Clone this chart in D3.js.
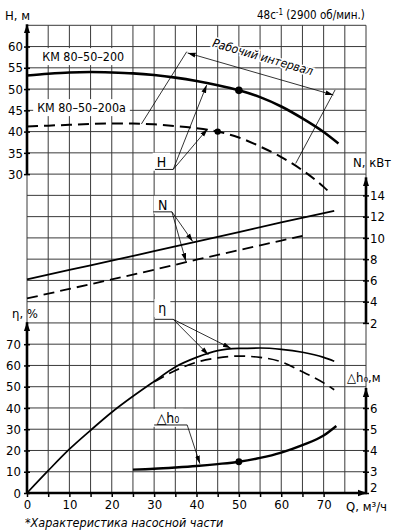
<!DOCTYPE html>
<html>
<head>
<meta charset="utf-8">
<script src="https://cdn.jsdelivr.net/npm/d3@7"></script>
<style>
body { margin: 0; background: #fff; }
svg { display: block; }
text { font-family: "Liberation Sans Narrow", "DejaVu Sans Condensed", "Noto Sans", sans-serif; fill: #000; }
</style>
</head>
<body>
<div id="chart"></div>
<script>
// Pump curves KM 80-50-200 (solid) and KM 80-50-200a (dashed)

var q_h = [0, 5, 10, 15, 20, 25, 30, 35, 40, 45, 50, 55, 60, 65, 70, 73.5]
var h_200 = [53.2, 53.6, 53.9, 54.0, 53.9, 53.7, 53.3, 52.7, 51.9, 50.9, 49.7, 48.1, 45.9, 43.1, 39.9, 37.2]
var q_ha = [0, 5, 10, 15, 20, 25, 30, 35, 40, 45, 50, 55, 60, 65, 70, 71.5]
var h_200a = [41.2, 41.4, 41.6, 41.8, 41.9, 41.9, 41.7, 41.3, 40.8, 40.0, 38.6, 36.5, 34.0, 30.9, 27.0, 25.6]

var q_n = [0, 10, 20, 30, 40, 50, 60, 72.5]
var n_200 = [6.1, 7.0, 7.85, 8.75, 9.65, 10.55, 11.45, 12.55]
var q_na = [0, 10, 20, 30, 40, 50, 60, 65]
var n_200a = [4.3, 5.2, 6.1, 7.0, 7.95, 8.85, 9.75, 10.2]

var q_eta = [0, 5, 10, 15, 20, 25, 30, 35, 40, 45, 50, 55, 60, 65, 70, 72.5]
var eta_200 = [0, 10.5, 20.6, 29.5, 38, 45.5, 52.5, 59.3, 63.8, 67, 68, 68.2, 67.6, 66.2, 63.8, 62]
var q_etaa = [30, 35, 40, 45, 50, 55, 60, 65, 70, 72.5]
var eta_200a = [52.3, 57.6, 61.5, 63.6, 64.4, 63.8, 61.7, 57, 51.8, 48.6]

var q_dh = [25, 30, 35, 40, 45, 50, 55, 60, 65, 70, 73]
var dh = [3.1, 3.14, 3.2, 3.27, 3.36, 3.47, 3.65, 3.9, 4.25, 4.7, 5.15]

var h_ticks = [30, 35, 40, 45, 50, 55, 60]
var n_ticks = [2, 4, 6, 8, 10, 12, 14]
var eta_ticks = [0, 10, 20, 30, 40, 50, 60, 70]
var dh_ticks = [2, 3, 4, 5, 6]
var q_ticks = [0, 5, 10, 15, 20, 25, 30, 35, 40, 45, 50, 55, 60, 65, 70]

const W = 400, H = 532
const left = 27, right = 366, bottom = 493
const row = (bottom - 25.3) / 22

var x = d3.scaleLinear().domain([0, 80]).range([left, right])
var yEta = d3.scaleLinear().domain([0, 70]).range([bottom, bottom - 7 * row])
var yDh = d3.scaleLinear().domain([2, 6]).range([bottom, bottom - 4 * row])
var yN = d3.scaleLinear().domain([0, 14]).range([bottom - 7 * row, bottom - 14 * row])
var yH = d3.scaleLinear().domain([30, 65]).range([bottom - 15 * row, bottom - 22 * row])

var svg = d3.select('#chart').append('svg').attr('width', W).attr('height', H)

var defs = svg.append('defs')
defs.append('marker').attr('id', 'ax').attr('viewBox', '0 0 10 10')
    .attr('refX', 10).attr('refY', 5).attr('markerWidth', 9).attr('markerHeight', 9)
    .attr('markerUnits', 'userSpaceOnUse').attr('orient', 'auto')
    .append('path').attr('d', 'M0,1.5L10,5L0,8.5Z').attr('fill', '#000')
defs.append('marker').attr('id', 'ar').attr('viewBox', '0 0 10 10')
    .attr('refX', 10).attr('refY', 5).attr('markerWidth', 8).attr('markerHeight', 8)
    .attr('markerUnits', 'userSpaceOnUse').attr('orient', 'auto-start-reverse')
    .append('path').attr('d', 'M0,2L10,5L0,8Z').attr('fill', '#000')

// grid
var grid = svg.append('g').attr('stroke', '#3a3a3a').attr('stroke-width', 1)
d3.range(0, 81, 5).forEach(q => {
    grid.append('line').attr('x1', x(q)).attr('x2', x(q)).attr('y1', yH(65)).attr('y2', bottom)
})
d3.range(0, 221, 10).forEach(v => {
    grid.append('line').attr('x1', left).attr('x2', right).attr('y1', yEta(v)).attr('y2', yEta(v))
})

// helpers
function pts(qs, vs) { return qs.map((q, i) => [q, vs[i]]) }
function at(qs, vs, q) { return d3.scaleLinear().domain(qs).range(vs)(q) }
function curve(qs, vs, y, dashed, w) {
    var line = d3.line().x(d => x(d[0])).y(d => y(d[1])).curve(d3.curveMonotoneX)
    svg.append('path').attr('d', line(pts(qs, vs)))
        .attr('fill', 'none').attr('stroke', '#000').attr('stroke-width', w)
        .attr('stroke-dasharray', dashed ? '11,6' : null)
}
function boxLabel(txt, q, v, y, size) {
    var t = svg.append('text').attr('x', x(q)).attr('y', y(v)).attr('dy', '0.35em')
        .attr('font-size', size).text(txt)
    var b = t.node().getBBox()
    svg.insert('rect', function () { return t.node() })
        .attr('x', b.x - 4).attr('y', b.y - 1).attr('width', b.width + 8).attr('height', b.height + 2)
        .attr('fill', '#fff')
    return t
}
function leader(label, q0, q1, v, y, targets) {
    boxLabel(label[0], label[1], label[2], y, label[3])
    svg.append('line').attr('x1', x(q0)).attr('x2', x(q1)).attr('y1', y(v)).attr('y2', y(v))
        .attr('stroke', '#000').attr('stroke-width', 0.9)
    targets.forEach(p => {
        svg.append('line').attr('x1', x(q1)).attr('y1', y(v)).attr('x2', x(p[0])).attr('y2', p[1])
            .attr('stroke', '#000').attr('stroke-width', 0.8).attr('marker-end', 'url(#ar)')
    })
}

// model labels
boxLabel('КМ 80–50–200', 3.6, 57.6, yH, 12.4)
boxLabel('КМ 80–50–200а', 2.4, 45.6, yH, 12.4)

// curves
curve(q_h, h_200, yH, false, 2.6)
curve(q_ha, h_200a, yH, true, 2)
curve(q_n, n_200, yN, false, 1.8)
curve(q_na, n_200a, yN, true, 1.8)
curve(q_eta, eta_200, yEta, false, 1.7)
curve(q_etaa, eta_200a, yEta, true, 1.7)
curve(q_dh, dh, yDh, false, 2.4)

svg.append('circle').attr('cx', x(50)).attr('cy', yH(at(q_h, h_200, 50))).attr('r', 3.8)
svg.append('circle').attr('cx', x(45)).attr('cy', yH(at(q_ha, h_200a, 45))).attr('r', 3.2)
svg.append('circle').attr('cx', x(50)).attr('cy', yDh(at(q_dh, dh, 50))).attr('r', 3.4)

// working interval
var wi = svg.append('g').attr('stroke', '#000').attr('stroke-width', 0.8)
wi.append('line').attr('x1', x(27)).attr('y1', yH(41.8)).attr('x2', x(37.7)).attr('y2', yH(58.8))
wi.append('line').attr('x1', x(72.7)).attr('y1', yH(49.8)).attr('x2', x(63.4)).attr('y2', yH(32.5))
wi.append('line').attr('x1', x(37.9)).attr('y1', yH(58.5)).attr('x2', x(72.3)).attr('y2', yH(48.6))
    .attr('marker-start', 'url(#ar)').attr('marker-end', 'url(#ar)')
var ang = Math.atan2(yH(48.6) - yH(58.5), x(72.3) - x(37.9)) * 180 / Math.PI
svg.append('text').attr('transform', `translate(${x(55.4)},${yH(56.6)}) rotate(${ang})`)
    .attr('text-anchor', 'middle').attr('font-size', 12).attr('font-style', 'italic')
    .attr('stroke', '#fff').attr('stroke-width', 3).attr('paint-order', 'stroke')
    .text('Рабочий интервал')

// leaders
leader(['H', 30.6, 32.9, 14], 30.2, 34.5, 31.1, yH,
    [[42.4, yH(at(q_h, h_200, 42.4)) + 2], [42.6, yH(at(q_ha, h_200a, 42.6)) - 1]])
leader(['N', 30.9, 13.1, 14], 29.8, 34.2, 12.45, yN,
    [[39.1, yN(at(q_n, n_200, 39.1)) - 1], [37.5, yN(at(q_na, n_200a, 37.5)) - 1]])
leader(['η', 31.0, 86.9, 14], 30.2, 34.5, 81.7, yEta,
    [[48.1, yEta(at(q_eta, eta_200, 48.1)) - 1], [42.8, yEta(at(q_etaa, eta_200a, 42.8)) - 5]])
leader(['△h₀', 30.6, 5.53, 14], 30.0, 37.8, 5.2, yDh,
    [[40.8, yDh(at(q_dh, dh, 40.8)) - 2]])

// axes
function axisLine(x1, y1, x2, y2) {
    svg.append('line').attr('x1', x1).attr('y1', y1).attr('x2', x2).attr('y2', y2)
        .attr('stroke', '#000').attr('stroke-width', 2.6).attr('marker-end', 'url(#ax)')
}
function styleAxis(g) {
    g.select('.domain').remove()
    g.selectAll('line').attr('stroke', '#000').attr('stroke-width', 1.5)
    g.selectAll('text').attr('font-size', 13).attr('font-family', null)
}
axisLine(left, yH(30), left, yH(65) - 1)
svg.append('g').attr('transform', `translate(${left + 3},0)`)
    .call(d3.axisLeft(yH).tickValues(h_ticks).tickSize(6).tickPadding(1)).call(styleAxis)

axisLine(right, yN(2), right, yN(14) - 18)
svg.append('g').attr('transform', `translate(${right - 3},0)`)
    .call(d3.axisRight(yN).tickValues(n_ticks).tickSize(6).tickPadding(1)).call(styleAxis)

axisLine(left, bottom, left, yEta(70) - 22)
svg.append('g').attr('transform', `translate(${left + 3},0)`)
    .call(d3.axisLeft(yEta).tickValues(eta_ticks).tickSize(6).tickPadding(3)).call(styleAxis)

axisLine(right, bottom, right, yDh(6) - 20)
svg.append('g').attr('transform', `translate(${right - 3},0)`)
    .call(d3.axisRight(yDh).tickValues(dh_ticks).tickSize(6).tickPadding(1).tickFormat(d3.format('d')))
    .call(styleAxis)
    .selectAll('text').filter(d => d === 2).attr('dy', '-0.1em')

axisLine(left, bottom, right + 1, bottom)
svg.append('g').attr('transform', `translate(0,${bottom})`)
    .call(d3.axisBottom(x).tickValues(q_ticks).tickSize(4).tickPadding(3)
        .tickFormat(d => d % 10 === 0 ? d : '')).call(styleAxis)

// axis titles
svg.append('text').attr('x', 5).attr('y', 20).attr('font-size', 13).text('H, м')
svg.append('text').attr('x', 353).attr('y', 167).attr('font-size', 13).text('N, кВт')
svg.append('text').attr('x', 12).attr('y', 318).attr('font-size', 13).text('η, %')
svg.append('text').attr('x', 347).attr('y', 382).attr('font-size', 13).text('△h₀,м')
svg.append('text').attr('x', 346).attr('y', 511).attr('font-size', 13).text('Q, м³/ч')

svg.append('text').attr('x', 257).attr('y', 19).attr('font-size', 11.5)
    .attr('font-family', '"Liberation Serif", "DejaVu Serif", serif')
    .html('48c<tspan dy="-4" font-size="8">-1</tspan><tspan dy="4">  (2900 об/мин.)</tspan>')
svg.append('text').attr('x', 25).attr('y', 527).attr('font-size', 12.5).attr('font-style', 'italic')
    .text('*Характеристика насосной части')
</script>
</body>
</html>
